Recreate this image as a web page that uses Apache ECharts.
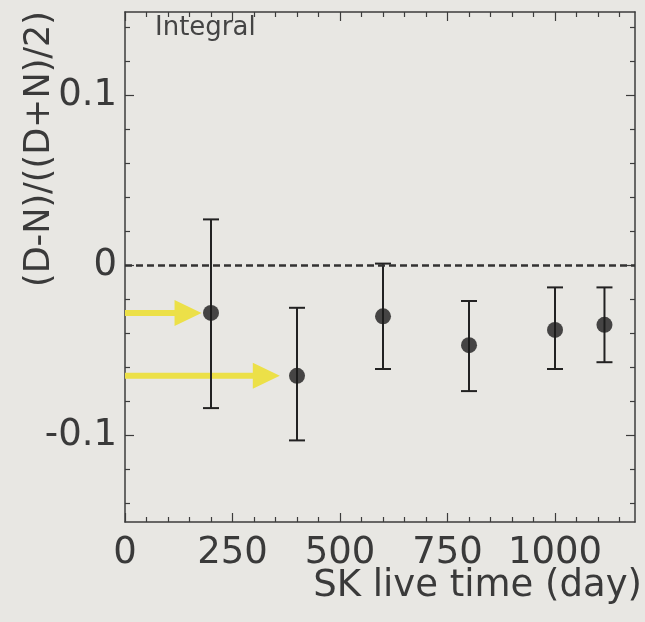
<!DOCTYPE html>
<html>
<head>
<meta charset="utf-8">
<script src="https://cdn.jsdelivr.net/npm/echarts@6/dist/echarts.min.js"></script>
<style>
  html, body { margin: 0; padding: 0; background: #e8e7e3; }
  #chart { width: 645px; height: 622px; }
</style>
</head>
<body>
<div id="chart"></div>
<script>
// Day-night asymmetry of the integral flux versus live time
const liveDays  = [200, 400, 600, 800, 1000, 1115];
const asymmetry = [-0.028, -0.065, -0.030, -0.047, -0.038, -0.035];
const errUpper  = [0.027, -0.025, 0.001, -0.021, -0.013, -0.013];
const errLower  = [-0.084, -0.103, -0.061, -0.074, -0.061, -0.057];

// Highlight arrows: height of the arrow and x position of its tip
const arrowLevels = [-0.028, -0.065];
const arrowTips   = [178, 360];

// Axis ticks and labels
const xTickLabels = [0, 250, 500, 750, 1000];
const xMinorTicks = [50, 100, 150, 200, 300, 350, 400, 450, 550, 600, 650, 700,
                     800, 850, 900, 950, 1050, 1100, 1150];
const yTickLabels = [-0.1, 0, 0.1];
const yMinorTicks = [-0.14, -0.12, -0.08, -0.06, -0.04, -0.02,
                     0.02, 0.04, 0.06, 0.08, 0.12, 0.14];

const X_MIN = 0, X_MAX = 1186;
const Y_MIN = -0.151, Y_MAX = 0.149;

const INK = '#3a3a3a';
const FRAME = '#3c3c3c';
const FONT = 'DejaVu Sans';

function xAxisDef(position, values, len, withLine, withLabels) {
  return {
    type: 'value', position: position, min: X_MIN, max: X_MAX,
    axisLine: { show: withLine, onZero: false, lineStyle: { color: FRAME, width: 1.5 } },
    axisTick: { show: true, inside: true, length: len, customValues: values,
                lineStyle: { color: FRAME, width: 1.2 } },
    axisLabel: withLabels ? {
      show: true, customValues: xTickLabels, margin: 13,
      fontFamily: FONT, fontSize: 37, color: INK,
      formatter: function (v) { return String(v); }
    } : { show: false },
    splitLine: { show: false }
  };
}

function yAxisDef(position, values, len, withLine, withLabels) {
  return {
    type: 'value', position: position, min: Y_MIN, max: Y_MAX,
    axisLine: { show: withLine, onZero: false, lineStyle: { color: FRAME, width: 1.5 } },
    axisTick: { show: true, inside: true, length: len, customValues: values,
                lineStyle: { color: FRAME, width: 1.2 } },
    axisLabel: withLabels ? {
      show: true, customValues: yTickLabels, margin: 8,
      fontFamily: FONT, fontSize: 37, color: INK,
      formatter: function (v) { return v === 0 ? '0' : String(v); }
    } : { show: false },
    splitLine: { show: false }
  };
}

const pointData = liveDays.map((d, i) => [d, asymmetry[i]]);
const barData = liveDays.map((d, i) => [d, errLower[i], errUpper[i]]);
const arrowData = arrowLevels.map((y, i) => [arrowTips[i], y]);

const chart = echarts.init(document.getElementById('chart'), null, { renderer: 'canvas' });

chart.setOption({
  backgroundColor: '#e8e7e3',
  animation: false,
  title: {
    text: 'Integral', left: 155, top: 15, padding: 0,
    textStyle: { fontFamily: FONT, fontSize: 26, fontWeight: 'normal', color: '#444' }
  },
  grid: { left: 125, right: 10, top: 12, bottom: 100, outerBoundsMode: 'none', show: false },
  xAxis: [
    xAxisDef('bottom', xTickLabels, 9, true, true),
    xAxisDef('bottom', xMinorTicks, 5, false, false),
    xAxisDef('top', xTickLabels, 9, true, false),
    xAxisDef('top', xMinorTicks, 5, false, false)
  ],
  yAxis: [
    yAxisDef('left', yTickLabels, 9, true, true),
    yAxisDef('left', yMinorTicks, 5, false, false),
    yAxisDef('right', yTickLabels, 9, true, false),
    yAxisDef('right', yMinorTicks, 5, false, false)
  ],
  graphic: [
    {
      // y-axis title, reading bottom to top
      type: 'text', x: 40, y: 149, rotation: Math.PI / 2,
      style: {
        text: '(D-N)/((D+N)/2)', fontFamily: FONT, fontSize: 35,
        fill: INK, align: 'center', verticalAlign: 'middle'
      }
    },
    {
      // x-axis title, right-aligned below the tick labels
      type: 'text', x: 642, y: 586,
      style: {
        text: 'SK live time (day)', fontFamily: FONT, fontSize: 37,
        fill: INK, align: 'right', verticalAlign: 'middle'
      }
    }
  ],
  series: [
    {
      // yellow pointer arrows
      type: 'custom', xAxisIndex: 0, yAxisIndex: 0, z: 3, silent: true,
      data: arrowData,
      renderItem: function (params, api) {
        const tip = api.coord([api.value(0), api.value(1)]);
        const start = api.coord([X_MIN, api.value(1)]);
        const headLen = 27, headHalf = 13, half = 3;
        const hx = tip[0] - headLen, y = tip[1];
        return {
          type: 'polygon',
          shape: { points: [
            [start[0], y - half], [hx, y - half], [hx, y - headHalf],
            [tip[0], y], [hx, y + headHalf], [hx, y + half], [start[0], y + half]
          ] },
          style: { fill: '#ece048' }
        };
      }
    },
    {
      // vertical error bars with caps
      type: 'custom', xAxisIndex: 0, yAxisIndex: 0, z: 4, silent: true,
      data: barData,
      renderItem: function (params, api) {
        const x = api.value(0);
        const lo = api.coord([x, api.value(1)]);
        const hi = api.coord([x, api.value(2)]);
        const cap = 8;
        const style = { stroke: '#222', lineWidth: 2 };
        return {
          type: 'group',
          children: [
            { type: 'line', shape: { x1: lo[0], y1: lo[1], x2: hi[0], y2: hi[1] }, style: style },
            { type: 'line', shape: { x1: hi[0] - cap, y1: hi[1], x2: hi[0] + cap, y2: hi[1] }, style: style },
            { type: 'line', shape: { x1: lo[0] - cap, y1: lo[1], x2: lo[0] + cap, y2: lo[1] }, style: style }
          ]
        };
      }
    },
    {
      type: 'scatter', xAxisIndex: 0, yAxisIndex: 0, z: 5,
      symbol: 'circle', symbolSize: 16,
      itemStyle: { color: '#1c1c1c' },
      data: pointData,
      markLine: {
        silent: true, symbol: 'none',
        label: { show: false },
        emphasis: { disabled: true },
        lineStyle: { color: '#333', width: 2.5, type: [7, 4] },
        data: [{ yAxis: 0 }]
      }
    }
  ]
});
</script>
</body>
</html>
